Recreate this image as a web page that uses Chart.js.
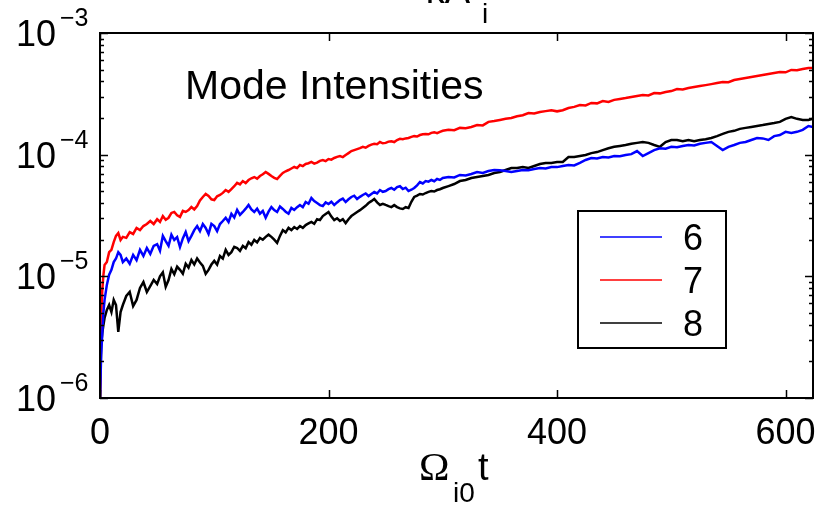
<!DOCTYPE html>
<html>
<head>
<meta charset="utf-8">
<script src="https://cdn.jsdelivr.net/npm/chart.js@4"></script>
<style>
html,body{margin:0;padding:0;background:#fff;}
#wrap{width:815px;height:505px;}
</style>
</head>
<body>
<div id="wrap"><canvas id="c" width="815" height="505"></canvas></div>
<script>
// time axis (Omega_i0 t)
const times = [0,1,2,3,4,6,8,10,12,14,16,18,20,23,26,29,32,35,38,41,44,47,50,
52.5,55,57.5,60,62.5,65,67.5,70,72.5,75,
77.5,80,82.5,85,87.5,90,92.5,95,97.5,100,
102.5,105,107.5,110,112.5,115,117.5,120,122.5,125,
127.5,130,132.5,135,137.5,140,142.5,145,147.5,150,
152.5,155,157.5,160,162.5,165,167.5,170,172.5,175,
177.5,180,182.5,185,187.5,190,192.5,195,197.5,200,
202.5,205,207.5,210,212.5,215,217.5,220,222.5,225,
227.5,230,232.5,235,237.5,240,242.5,245,247.5,250,
252.5,255,257.5,260,262.5,265,267.5,270,272.5,275,
277.5,280,282.5,285,287.5,290,292.5,295,297.5,300,
305,310,315,320,325,330,335,340,345,350,
355,360,365,370,375,380,385,390,395,400,
405,410,415,420,425,430,435,440,445,450,
455,460,465,470,475,480,485,490,495,500,
505,510,515,520,525,530,535,540,545,550,
555,560,565,570,575,580,585,590,595,600,
605,610,615,620,624];

// mode 6 (blue)
const mode6 = [1.0e-6,2.25e-6,3.42e-6,5.09e-6,6.4e-6,8.5e-6,1.03e-5,1.13e-5,1.31e-5,1.4e-5,1.58e-5,1.5e-5,1.31e-5,1.4e-5,1.27e-5,1.5e-5,1.36e-5,1.65e-5,1.47e-5,1.71e-5,1.53e-5,1.78e-5,1.84e-5,
1.62e-5,2.15e-5,1.95e-5,1.78e-5,2.2e-5,1.99e-5,2.1e-5,1.74e-5,2.05e-5,2.31e-5,
1.95e-5,2.15e-5,2.4e-5,2.59e-5,2.35e-5,2.69e-5,2.5e-5,2.23e-5,2.7e-5,2.59e-5,
2.35e-5,2.69e-5,2.85e-5,3.03e-5,2.8e-5,3.27e-5,3.05e-5,3.51e-5,3.2e-5,3.38e-5,
3.6e-5,3.86e-5,3.55e-5,3.38e-5,3.6e-5,3.27e-5,3.45e-5,3.03e-5,3.4e-5,3.71e-5,
3.5e-5,3.38e-5,3.75e-5,3.58e-5,3.4e-5,3.27e-5,3.65e-5,3.51e-5,3.7e-5,3.86e-5,
3.7e-5,4.08e-5,3.95e-5,4.4e-5,4.15e-5,4.0e-5,3.85e-5,3.78e-5,4.05e-5,3.93e-5,
4.1e-5,3.86e-5,4.05e-5,4.24e-5,4.35e-5,4.08e-5,4.3e-5,4.49e-5,4.6e-5,4.32e-5,
4.5e-5,4.66e-5,4.8e-5,4.57e-5,4.75e-5,4.93e-5,4.8e-5,5.12e-5,4.95e-5,5.02e-5,
5.2e-5,5.32e-5,5.15e-5,5.42e-5,5.5e-5,5.22e-5,5.35e-5,5.02e-5,5.15e-5,5.32e-5,
5.6e-5,5.96e-5,5.8e-5,6.07e-5,6.0e-5,6.19e-5,6.05e-5,6.31e-5,6.2e-5,6.43e-5,
6.55e-5,6.5e-5,6.81e-5,6.75e-5,6.94e-5,7.21e-5,7.07e-5,7.34e-5,7.48e-5,7.45e-5,
7.34e-5,7.21e-5,7.34e-5,7.48e-5,7.45e-5,7.62e-5,7.77e-5,7.7e-5,7.92e-5,7.9e-5,
8.07e-5,8.22e-5,8.15e-5,8.55e-5,9.04e-5,9.39e-5,9.3e-5,9.57e-5,9.5e-5,9.75e-5,
9.7e-5,9.93e-5,1.01e-4,1.07e-4,9.75e-5,1.03e-4,1.09e-4,1.13e-4,1.12e-4,1.16e-4,
1.15e-4,1.18e-4,1.2e-4,1.19e-4,1.23e-4,1.25e-4,1.27e-4,1.18e-4,1.09e-4,1.16e-4,
1.2e-4,1.25e-4,1.27e-4,1.32e-4,1.37e-4,1.36e-4,1.32e-4,1.42e-4,1.45e-4,1.54e-4,
1.51e-4,1.54e-4,1.6e-4,1.72e-4,1.69e-4];

// mode 7 (red)
const mode7 = [1.0e-6,4.8e-6,7.7e-6,1.03e-5,1.24e-5,1.31e-5,1.58e-5,1.65e-5,1.91e-5,2.15e-5,2.27e-5,1.99e-5,2.11e-5,2.07e-5,2.31e-5,2.23e-5,2.5e-5,2.4e-5,2.59e-5,2.69e-5,2.85e-5,2.69e-5,2.95e-5,
2.8e-5,3.13e-5,2.92e-5,3.03e-5,3.32e-5,3.38e-5,3.18e-5,3.08e-5,3.45e-5,3.38e-5,
3.5e-5,3.71e-5,3.55e-5,3.78e-5,4.2e-5,4.49e-5,4.75e-5,4.57e-5,4.3e-5,4.24e-5,
4.55e-5,4.66e-5,4.85e-5,5.12e-5,4.95e-5,5.22e-5,5.5e-5,5.86e-5,5.7e-5,6.07e-5,
5.85e-5,6.19e-5,6.4e-5,6.55e-5,6.35e-5,6.68e-5,6.9e-5,7.21e-5,6.95e-5,6.68e-5,
6.45e-5,6.31e-5,6.7e-5,7.07e-5,7.3e-5,7.48e-5,7.7e-5,7.92e-5,7.75e-5,8.22e-5,
8.05e-5,8.38e-5,8.5e-5,8.71e-5,8.45e-5,8.6e-5,8.9e-5,9.04e-5,8.85e-5,9.2e-5,
9.1e-5,9.39e-5,9.6e-5,9.75e-5,9.55e-5,9.93e-5,1.03e-4,1.07e-4,1.09e-4,1.11e-4,
1.13e-4,1.16e-4,1.14e-4,1.18e-4,1.21e-4,1.23e-4,1.22e-4,1.27e-4,1.24e-4,1.25e-4,
1.28e-4,1.29e-4,1.27e-4,1.32e-4,1.35e-4,1.34e-4,1.36e-4,1.37e-4,1.4e-4,1.42e-4,
1.41e-4,1.45e-4,1.47e-4,1.48e-4,1.47e-4,1.51e-4,1.53e-4,1.5e-4,1.54e-4,1.57e-4,
1.6e-4,1.59e-4,1.66e-4,1.65e-4,1.69e-4,1.75e-4,1.74e-4,1.86e-4,1.89e-4,1.93e-4,
1.97e-4,2.0e-4,2.07e-4,2.11e-4,2.2e-4,2.18e-4,2.24e-4,2.28e-4,2.32e-4,2.27e-4,
2.32e-4,2.42e-4,2.47e-4,2.56e-4,2.54e-4,2.66e-4,2.64e-4,2.76e-4,2.71e-4,2.82e-4,
2.87e-4,2.92e-4,2.98e-4,3.04e-4,3.09e-4,3.07e-4,3.21e-4,3.19e-4,3.27e-4,3.33e-4,
3.46e-4,3.44e-4,3.53e-4,3.6e-4,3.66e-4,3.73e-4,3.8e-4,3.88e-4,3.96e-4,3.94e-4,
4.11e-4,4.19e-4,4.27e-4,4.35e-4,4.43e-4,4.52e-4,4.61e-4,4.69e-4,4.78e-4,4.75e-4,
4.97e-4,4.95e-4,5.06e-4,5.16e-4,5.16e-4];

// mode 8 (black)
const mode8 = [1.0e-6,2.73e-6,3.42e-6,3.98e-6,4.55e-6,5.29e-6,5.81e-6,5.09e-6,6.4e-6,5.81e-6,3.5e-6,5.09e-6,5.81e-6,6.89e-6,7.43e-6,5.7e-6,6.4e-6,8.02e-6,8.98e-6,7.43e-6,8.32e-6,9.33e-6,8.65e-6,
1.0e-5,1.08e-5,8.2e-6,9.33e-6,1.15e-5,1.04e-5,1.2e-5,1.13e-5,1.05e-5,1.27e-5,
1.18e-5,1.36e-5,1.25e-5,1.4e-5,1.3e-5,1.22e-5,1.05e-5,1.13e-5,1.25e-5,1.34e-5,
1.25e-5,1.47e-5,1.4e-5,1.65e-5,1.5e-5,1.58e-5,1.75e-5,1.71e-5,1.62e-5,1.78e-5,
1.7e-5,1.91e-5,1.82e-5,1.99e-5,1.9e-5,2.07e-5,2.0e-5,2.11e-5,2.2e-5,2.11e-5,
2.0e-5,1.88e-5,2.15e-5,2.4e-5,2.3e-5,2.5e-5,2.4e-5,2.54e-5,2.45e-5,2.59e-5,
2.5e-5,2.64e-5,2.72e-5,2.8e-5,2.7e-5,2.95e-5,2.9e-5,3.13e-5,3.25e-5,3.38e-5,
3.1e-5,2.9e-5,3.0e-5,2.85e-5,2.95e-5,2.74e-5,2.95e-5,3.13e-5,3.25e-5,3.38e-5,
3.5e-5,3.65e-5,3.8e-5,4.0e-5,4.15e-5,4.32e-5,4.05e-5,3.86e-5,3.95e-5,3.86e-5,
3.78e-5,3.71e-5,3.85e-5,3.71e-5,3.62e-5,3.58e-5,3.7e-5,3.65e-5,4.1e-5,4.49e-5,
4.6e-5,4.75e-5,4.7e-5,4.84e-5,4.95e-5,5.02e-5,4.98e-5,5.12e-5,5.2e-5,5.32e-5,
5.52e-5,5.74e-5,6.07e-5,6.19e-5,6.43e-5,6.55e-5,6.68e-5,6.81e-5,7.07e-5,7.21e-5,
7.48e-5,7.77e-5,7.77e-5,7.92e-5,7.77e-5,8.07e-5,8.38e-5,8.55e-5,8.55e-5,8.71e-5,
8.71e-5,9.57e-5,9.57e-5,9.75e-5,9.93e-5,1.03e-4,1.05e-4,1.09e-4,1.13e-4,1.16e-4,
1.18e-4,1.2e-4,1.23e-4,1.25e-4,1.27e-4,1.25e-4,1.2e-4,1.16e-4,1.27e-4,1.32e-4,
1.32e-4,1.29e-4,1.32e-4,1.29e-4,1.32e-4,1.34e-4,1.37e-4,1.42e-4,1.48e-4,1.54e-4,
1.57e-4,1.63e-4,1.66e-4,1.69e-4,1.72e-4,1.75e-4,1.79e-4,1.82e-4,1.86e-4,1.97e-4,
2.04e-4,1.97e-4,1.93e-4,1.93e-4,1.97e-4];

const seriesNames = ['6','7','8'];
const seriesColors = ['#0000ff','#ff0000','#000000'];
const xTicks = [0,200,400,600];
const yDecades = [1e-6,1e-5,1e-4,1e-3];
const yExponents = ['\u22126','\u22125','\u22124','\u22123'];
const xMax = 624;

function pts(arr){ return times.map((t,i)=>({x:t,y:arr[i]})); }

const SANS = '"Liberation Sans", Arial, Helvetica, sans-serif';
const SERIF = '"Liberation Serif", "Times New Roman", serif';

const decor = {
  id:'decor',
  afterDraw(chart){
    const ctx = chart.ctx, a = chart.chartArea;
    const xs = chart.scales.x, ys = chart.scales.y;
    ctx.save();
    ctx.strokeStyle = '#000'; ctx.fillStyle = '#000';
    ctx.lineWidth = 2;
    ctx.strokeRect(a.left, a.top, a.right - a.left, a.bottom - a.top);
    ctx.lineWidth = 1.5;
    ctx.beginPath();
    xTicks.forEach(v=>{
      const px = Math.round(xs.getPixelForValue(v)) + 0.5;
      ctx.moveTo(px, a.bottom); ctx.lineTo(px, a.bottom - 8);
      ctx.moveTo(px, a.top); ctx.lineTo(px, a.top + 8);
    });
    yDecades.forEach((d,i)=>{
      const py = Math.round(ys.getPixelForValue(d)) + 0.5;
      ctx.moveTo(a.left, py); ctx.lineTo(a.left + 8, py);
      ctx.moveTo(a.right, py); ctx.lineTo(a.right - 8, py);
      if (i < yDecades.length - 1){
        for (let m=2; m<=9; m++){
          const q = Math.round(ys.getPixelForValue(d*m)) + 0.5;
          ctx.moveTo(a.left, q); ctx.lineTo(a.left + 4, q);
          ctx.moveTo(a.right, q); ctx.lineTo(a.right - 4, q);
        }
      }
    });
    ctx.stroke();
    yDecades.forEach((d,i)=>{
      const py = ys.getPixelForValue(d);
      ctx.font = '36px ' + SANS;
      ctx.textAlign = 'right'; ctx.textBaseline = 'alphabetic';
      ctx.fillText('10', 56, py + 13);
      ctx.font = '25px ' + SANS;
      ctx.textAlign = 'left';
      ctx.fillText(yExponents[i], 60, py - 7);
    });
    ctx.font = '36px ' + SANS;
    ctx.textAlign = 'center';
    xTicks.forEach(v=>{
      ctx.fillText(String(v), xs.getPixelForValue(v), 444);
    });
    ctx.textAlign = 'left';
    ctx.font = '41px ' + SERIF;
    ctx.fillText('\u03A9', 419, 480);
    ctx.font = '28px ' + SANS;
    ctx.fillText('i0', 453, 502);
    ctx.font = '38px ' + SANS;
    ctx.fillText('t', 478, 480);
    ctx.font = '38px ' + SANS;
    ctx.textAlign = 'center';
    ctx.fillText('kA', 448, 3);
    ctx.font = '28px ' + SANS;
    ctx.fillText('i', 485, 23);
    ctx.textAlign = 'left';
    ctx.font = '41px ' + SANS;
    ctx.fillText('Mode Intensities', 185, 99);
    ctx.fillStyle = '#fff';
    ctx.fillRect(578, 211, 148, 137);
    ctx.lineWidth = 2; ctx.strokeStyle = '#000';
    ctx.strokeRect(578, 211, 148, 137);
    const rows = [237, 280, 323];
    seriesNames.forEach((n,i)=>{
      ctx.strokeStyle = seriesColors[i];
      ctx.lineWidth = 1.5;
      ctx.beginPath(); ctx.moveTo(600, rows[i]); ctx.lineTo(662, rows[i]); ctx.stroke();
      ctx.fillStyle = '#000';
      ctx.font = '36px ' + SANS;
      ctx.fillText(n, 683, rows[i] + 13);
    });
    ctx.restore();
  }
};

new Chart(document.getElementById('c'), {
  type:'line',
  data:{
    datasets:[
      {label:seriesNames[0], data:pts(mode6), borderColor:seriesColors[0], borderWidth:2.5, pointRadius:0, tension:0},
      {label:seriesNames[1], data:pts(mode7), borderColor:seriesColors[1], borderWidth:2.5, pointRadius:0, tension:0},
      {label:seriesNames[2], data:pts(mode8), borderColor:seriesColors[2], borderWidth:2.5, pointRadius:0, tension:0}
    ]
  },
  options:{
    responsive:false, animation:false, devicePixelRatio:1,
    layout:{padding:{left:0, top:33, right:2, bottom:0}},
    plugins:{legend:{display:false}, tooltip:{enabled:false}, title:{display:false}},
    scales:{
      x:{type:'linear', min:0, max:xMax, ticks:{display:false}, grid:{display:false}, border:{display:false},
         afterFit(s){ s.height = 107; }},
      y:{type:'logarithmic', min:1e-6, max:1e-3, ticks:{display:false}, grid:{display:false}, border:{display:false},
         afterFit(s){ s.width = 100; }}
    }
  },
  plugins:[decor]
});
</script>
</body>
</html>
